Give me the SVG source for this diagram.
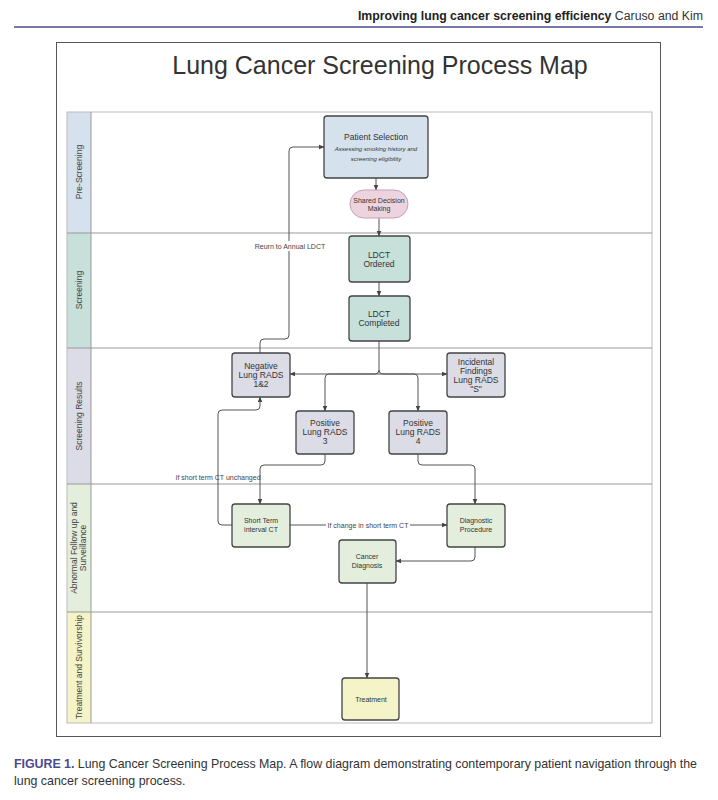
<svg xmlns="http://www.w3.org/2000/svg" width="718" height="800" viewBox="0 0 718 800">
<style>
text{font-family:"Liberation Sans",Arial,sans-serif;fill:#333}
.n{stroke:#444;stroke-width:1.3}
.t{font-size:8.5px;text-anchor:middle}
.s{font-size:7px}
.i{font-size:6px;font-style:italic}
.lane{font-size:8.5px;text-anchor:middle;fill:#444}
.c{fill:none;stroke:#555;stroke-width:1}
.l{font-size:7px;text-anchor:middle;fill:#444}
</style>
<defs><marker id="a" viewBox="0 0 10 10" refX="9" refY="5" markerWidth="6" markerHeight="6" orient="auto"><path d="M0,1L10,5L0,9z" fill="#444"/></marker></defs>
<rect width="718" height="800" fill="#fff"/>
<text x="703" y="20" text-anchor="end" font-size="12.3"><tspan font-weight="bold" fill="#222">Improving lung cancer screening efficiency</tspan> Caruso and Kim</text>
<line x1="14" y1="27" x2="703" y2="27" stroke="#4a4a8e" stroke-width="1.5"/>
<rect x="56.5" y="42.5" width="604" height="694" fill="#fff" stroke="#555"/>
<text x="380" y="74" font-size="25" text-anchor="middle" fill="#222" font-family="Roboto,sans-serif">Lung Cancer Screening Process Map</text>
<g id="lanes">
<rect x="67" y="112" width="24" height="121" fill="#d5e1ec"/>
<rect x="67" y="233" width="24" height="115" fill="#c7e0d9"/>
<rect x="67" y="348" width="24" height="136" fill="#dcdce6"/>
<rect x="67" y="484" width="24" height="128" fill="#e3eedc"/>
<rect x="67" y="612" width="24" height="111" fill="#f5f3c8"/>
<rect x="67" y="112" width="585" height="611" fill="none" stroke="#bbb"/>
<line x1="91" y1="112" x2="91" y2="723" stroke="#999"/>
<g stroke="#999"><line x1="67" y1="233" x2="652" y2="233"/><line x1="67" y1="348" x2="652" y2="348"/><line x1="67" y1="484" x2="652" y2="484"/><line x1="67" y1="612" x2="652" y2="612"/></g>
<text class="lane" transform="translate(82,172) rotate(-90)">Pre-Screening</text>
<text class="lane" transform="translate(82,290) rotate(-90)">Screening</text>
<text class="lane" transform="translate(82,416) rotate(-90)">Screening Results</text>
<text class="lane" transform="translate(77,548) rotate(-90)">Abnormal Follow up and</text>
<text class="lane" transform="translate(86,548) rotate(-90)">Surveillance</text>
<text class="lane" transform="translate(82,667) rotate(-90)">Treatment and Survivorship</text>
</g>
<g id="connectors">
<path class="c" d="M376,178V190" marker-end="url(#a)"/>
<path class="c" d="M379,218V236" marker-end="url(#a)"/>
<path class="c" d="M379,282V296" marker-end="url(#a)"/>
<path class="c" d="M379,341V370q0,4-4,4H290" marker-end="url(#a)"/>
<path class="c" d="M379,370q0,4 4,4H447" marker-end="url(#a)"/>
<path class="c" d="M379,374H329q-4,0-4,4V411" marker-end="url(#a)" stroke="#888"/>
<path class="c" d="M379,374H414q4,0 4,4V411" marker-end="url(#a)" stroke="#888"/>
<path class="c" d="M260,353V343q0-4 4-4H285q4,0 4-4V151q0-4 4-4H324" marker-end="url(#a)"/>
<path class="c" d="M325,454V461q0,4-4,4H264q-4,0-4,4V504" marker-end="url(#a)"/>
<path class="c" d="M232,525H222q-4,0-4-4V414q0-4 4-4H256q4,0 4-4V397" marker-end="url(#a)"/>
<path class="c" d="M290,525H447" marker-end="url(#a)"/>
<path class="c" d="M418,454V461q0,4 4,4H471q4,0 4,4V504" marker-end="url(#a)" stroke="#aaa"/>
<path class="c" d="M475,547V557q0,4-4,4H396" marker-end="url(#a)" stroke="#888"/>
<path class="c" d="M367,583V678" marker-end="url(#a)" stroke="#777"/>
<rect x="250" y="241" width="80" height="10" fill="#fff"/>
<text class="l" x="290" y="249">Reurn to Annual LDCT</text>
<text class="l" x="218" y="480">If short term CT unchanged</text>
<rect x="326" y="520" width="84" height="10" fill="#fff"/>
<text class="l" x="368" y="528">If change in short term CT</text>
</g>
<g id="patient"><rect class="n" x="324" y="116" width="104" height="62" rx="3" fill="#d5e1ec" stroke="#8a9ab0"/><text class="t" x="376" y="140">Patient Selection</text><text class="t i" x="376" y="151">Assessing smoking history and</text><text class="t i" x="376" y="161">screening eligibility</text></g>
<g id="sdm"><rect x="350" y="190" width="58" height="28" rx="14" fill="#ecd3de" stroke="#c9a0b5"/><text class="t s" x="379" y="203">Shared Decision</text><text class="t s" x="379" y="211">Making</text></g>
<g id="ordered"><rect class="n" x="349" y="236" width="61" height="46" rx="3" fill="#c7e0d9"/><text class="t" x="379" y="258">LDCT</text><text class="t" x="379" y="267">Ordered</text></g>
<g id="completed"><rect class="n" x="349" y="296" width="61" height="45" rx="3" fill="#c7e0d9"/><text class="t" x="379" y="317">LDCT</text><text class="t" x="379" y="326">Completed</text></g>
<g id="negative"><rect class="n" x="232" y="353" width="58" height="44" rx="3" fill="#dcdce6"/><text class="t" x="261" y="369">Negative</text><text class="t" x="261" y="378">Lung RADS</text><text class="t" x="261" y="387">1&amp;2</text></g>
<g id="incidental"><rect class="n" x="447" y="353" width="58" height="44" rx="3" fill="#dcdce6"/><text class="t" x="476" y="365">Incidental</text><text class="t" x="476" y="374">Findings</text><text class="t" x="476" y="383">Lung RADS</text><text class="t" x="476" y="392">"S"</text></g>
<g id="pos3"><rect class="n" x="296" y="411" width="58" height="43" rx="3" fill="#dcdce6"/><text class="t" x="325" y="426">Positive</text><text class="t" x="325" y="435">Lung RADS</text><text class="t" x="325" y="444">3</text></g>
<g id="pos4"><rect class="n" x="389" y="411" width="58" height="43" rx="3" fill="#dcdce6"/><text class="t" x="418" y="426">Positive</text><text class="t" x="418" y="435">Lung RADS</text><text class="t" x="418" y="444">4</text></g>
<g id="shortterm"><rect class="n" x="232" y="504" width="58" height="43" rx="3" fill="#e3eedc"/><text class="t s" x="261" y="523">Short Term</text><text class="t s" x="261" y="532">interval CT</text></g>
<g id="diagnostic"><rect class="n" x="447" y="504" width="58" height="43" rx="3" fill="#e3eedc"/><text class="t s" x="476" y="523">Diagnostic</text><text class="t s" x="476" y="532">Procedure</text></g>
<g id="cancer"><rect class="n" x="339" y="540" width="57" height="43" rx="3" fill="#e3eedc"/><text class="t s" x="367" y="559">Cancer</text><text class="t s" x="367" y="568">Diagnosis</text></g>
<g id="treatment"><rect class="n" x="342" y="678" width="57" height="42" rx="3" fill="#f5f3c8"/><text class="t s" x="371" y="702">Treatment</text></g>
<text x="14" y="768" font-size="12.4" textLength="683"><tspan font-weight="bold" fill="#4a4a8e">FIGURE 1.</tspan> Lung Cancer Screening Process Map. A flow diagram demonstrating contemporary patient navigation through the</text>
<text x="14" y="785" font-size="12.4">lung cancer screening process.</text>
</svg>
